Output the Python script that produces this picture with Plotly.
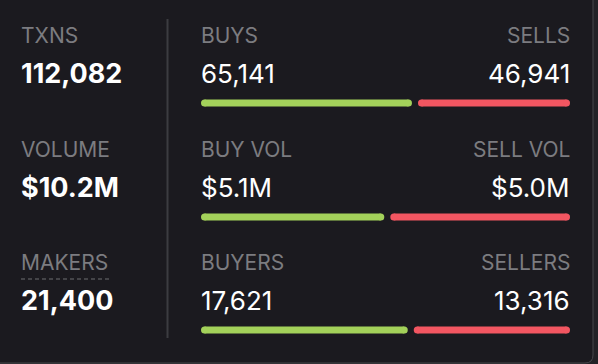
import plotly.graph_objects as go

# ---- data ----
metric_labels = ["TXNS", "VOLUME", "MAKERS"]
metric_values = ["112,082", "$10.2M", "21,400"]
buy_labels = ["BUYS", "BUY VOL", "BUYERS"]
sell_labels = ["SELLS", "SELL VOL", "SELLERS"]
buy_values = [65141, 5.1e6, 17621]
sell_values = [46941, 5.0e6, 13316]
buy_text = ["65,141", "$5.1M", "17,621"]
sell_text = ["46,941", "$5.0M", "13,316"]

# ---- style / layout constants ----
W, H = 598, 364
BG = "#1b1a1f"
GREEN = "#a3d15a"
RED = "#f25661"
GRAY = "#7c7c80"
WHITE = "#ffffff"
FONT = "Inter"
BAR_X0, BAR_X1 = 201, 570
BAR_W = 7
GAP_PX = 6
row_label_y = [35, 149, 262]
row_value_y = [73, 187, 300]
row_bar_y = [103, 217, 330]

span = BAR_X1 - BAR_X0
gap = GAP_PX / span
r = (BAR_W / 2) / span

fig = go.Figure()

# dummy trace to create the pixel axis x
fig.add_trace(go.Scatter(x=[0, W], y=[0, H], xaxis="x", yaxis="y", mode="markers",
                         marker=dict(opacity=0), hoverinfo="skip", showlegend=False))

for i in range(3):
    total = buy_values[i] + sell_values[i]
    f = buy_values[i] / total
    g_end = f * (1 - gap)
    r_start = g_end + gap
    for (a, b, col) in [(0, g_end, GREEN), (r_start, 1, RED)]:
        fig.add_trace(go.Scatter(
            x=[a + r, b - r], y=[row_bar_y[i], row_bar_y[i]], xaxis="x2", yaxis="y",
            mode="lines+markers", line=dict(color=col, width=BAR_W),
            marker=dict(color=col, size=BAR_W, line=dict(width=0)),
            hoverinfo="skip", showlegend=False))

ann = []
def txt(x, y, s, size, color, anchor, weight="normal"):
    ann.append(dict(x=x, y=y, xref="x", yref="y", text=s, showarrow=False,
                    xanchor=anchor, yanchor="middle",
                    font=dict(family=FONT, size=size, color=color, weight=weight)))

for i in range(3):
    txt(19, row_label_y[i], metric_labels[i], 21, GRAY, "left")
    txt(19, row_value_y[i], metric_values[i], 27, WHITE, "left", "bold")
    txt(199, row_label_y[i], buy_labels[i], 21, GRAY, "left")
    txt(572, row_label_y[i], sell_labels[i], 21, GRAY, "right")
    txt(199, row_value_y[i], buy_text[i], 26, WHITE, "left")
    txt(572, row_value_y[i], sell_text[i], 26, WHITE, "right")

shapes = [
    # outer rounded card border (right & bottom visible)
    dict(type="path", xref="x", yref="y", layer="below",
         path="M -10 -10 L 593 -10 L 593 355 Q 593 363 585 363 L -10 363 Z",
         fillcolor=BG, line=dict(color="#46464b", width=1)),
    # divider
    dict(type="line", xref="x", yref="y", x0=167.5, x1=167.5, y0=19, y1=338,
         line=dict(color="#3c3c41", width=2)),
    # dashed underline under MAKERS
    dict(type="line", xref="x", yref="y", x0=21, x1=112, y0=279, y1=279,
         line=dict(color="#6e6e72", width=1, dash="4px,3px")),
]

fig.update_layout(
    width=W, height=H, margin=dict(l=0, r=0, t=0, b=0),
    paper_bgcolor="#222226", plot_bgcolor="rgba(0,0,0,0)",
    xaxis=dict(domain=[0, 1], range=[0, W], visible=False, fixedrange=True, anchor="y"),
    xaxis2=dict(domain=[BAR_X0 / W, BAR_X1 / W], range=[0, 1], visible=False, anchor="y", fixedrange=True),
    yaxis=dict(domain=[0, 1], range=[H, 0], visible=False, fixedrange=True),
    annotations=ann, shapes=shapes, showlegend=False,
)

fig.write_html("out.html", config={"displayModeBar": False},
               post_script="document.body.style.margin='0';document.body.style.overflow='hidden';")
